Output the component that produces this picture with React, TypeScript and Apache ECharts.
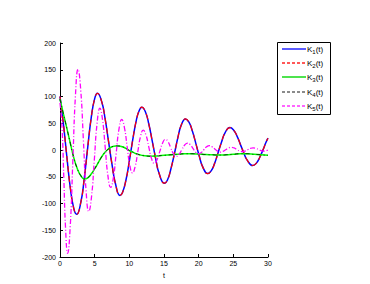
import React, { useEffect, useRef } from "react";
import * as echarts from "echarts";

const xTicks = [0, 5, 10, 15, 20, 25, 30];
const yTicks = [-200, -150, -100, -50, 0, 50, 100, 150, 200];

const tK1 = [0, 0.5, 1.0, 1.5, 2.0, 2.4, 3.0, 3.5, 4.0, 4.5, 5.0, 5.4, 6.0, 6.5, 7.0, 7.5, 8.0, 8.65, 9.0, 9.5, 10.0, 10.5, 11.0, 11.4, 11.8, 12.3, 12.8, 13.3, 13.8, 14.3, 15.05, 15.5, 16.0, 16.5, 17.0, 17.5, 18.1, 18.6, 19.1, 19.6, 20.1, 20.6, 21.3, 21.8, 22.3, 22.8, 23.3, 23.8, 24.5, 25.0, 25.5, 26.0, 26.5, 27.0, 27.8, 28.3, 28.8, 29.3, 29.7, 30];
const vK1 = [100, 48, -14, -72, -110, -120, -98, -53, 5, 60, 96, 106, 91, 59, 16, -27, -63, -85, -80, -57, -21, 20, 55, 73, 80, 72, 49, 17, -16, -44, -62, -56, -35, -7, 23, 47, 58, 52, 35, 12, -12, -32, -44, -39, -25, -5, 15, 32, 42, 38, 27, 11, -5, -19, -29, -25, -14, 1, 14, 22];
const vK2 = [100, 48, -14, -72, -110, -120, -98, -53, 5, 60, 96, 106, 91, 59, 16, -27, -63, -85, -80, -57, -21, 20, 55, 73, 80, 72, 49, 17, -16, -44, -62, -56, -35, -7, 23, 47, 58, 52, 35, 12, -12, -32, -44, -39, -25, -5, 15, 32, 42, 38, 27, 11, -5, -19, -29, -25, -14, 1, 14, 22];

const tK3 = [0, 0.5, 1.0, 1.5, 2.0, 2.5, 3.0, 3.5, 4.0, 4.5, 5.0, 5.5, 6.0, 6.5, 7.0, 7.5, 8.0, 8.5, 9.0, 9.5, 10.0, 10.5, 11, 11.5, 12, 13, 14, 15, 16, 17, 18, 19, 20, 21, 22, 23, 24, 25, 26, 27, 28, 29, 30];
const vK3 = [95, 67, 40, 12, -15, -35, -48, -54, -52, -45, -35, -24, -13, -4, 2, 6, 7.5, 7.5, 6, 3, -1, -4, -7, -9, -10.5, -11.5, -11, -10, -9, -8, -7, -7, -7.5, -8.5, -9, -9.5, -9, -8, -7, -7, -8, -9, -10];
const vK4 = [95, 67, 40, 12, -15, -35, -48, -54, -52, -45, -35, -24, -13, -4, 2, 6, 7.5, 7.5, 6, 3, -1, -4, -7, -9, -10.5, -11.5, -11, -10, -9, -8, -7, -7, -7.5, -8.5, -9, -9.5, -9, -8, -7, -7, -8, -9, -10];

const tK5 = [0, 0.3, 0.55, 0.8, 1.1, 1.475, 1.85, 2.225, 2.6, 2.99, 3.375, 3.76, 4.15, 4.55, 4.95, 5.35, 5.75, 6.14, 6.525, 6.91, 7.3, 7.7, 8.1, 8.5, 8.9, 9.29, 9.675, 10.06, 10.45, 10.84, 11.225, 11.61, 12.0, 12.4, 12.8, 13.2, 13.6, 14.0, 14.4, 14.8, 15.2, 15.59, 15.975, 16.36, 16.75, 17.16, 17.575, 17.99, 18.4, 18.79, 19.175, 19.56, 19.95, 20.35, 20.75, 21.15, 21.55, 21.94, 22.325, 22.71, 23.1, 23.5, 23.9, 24.3, 24.7, 25.1, 25.5, 25.9, 26.3, 26.69, 27.075, 27.46, 27.85, 28.24, 28.625, 29.01, 29.4, 30];
const vK5 = [88, 40, -52, -146, -193, -143, -21, 101, 151, 112, 18, -76, -115, -87, -18.5, 50, 78, 56, 4, -48, -70, -51.5, -6.5, 38.5, 57, 42, 7, -28, -43, -31, -3, 25, 37, 28, 6, -16, -25, -18, -2.5, 13, 20, 15.3, 4, -7, -12, -8.3, 0.5, 9.3, 13, 10, 3, -4, -7, -5, 0.5, 6, 8, 6, 2, -2, -4, -2.7, 0.5, 3.7, 5, 3.8, 1, -1.8, -3, -2, 0.5, 3, 4, 3.1, 1, -1, -2, 0];

const names = ["K1", "K2", "K3", "K4", "K5"];
const subs = ["1", "2", "3", "4", "5"];
const colors = ["#0000ff", "#ff0000", "#00ff00", "#000000", "#ff00ff"];

const zip = (t: number[], v: number[]) => t.map((x, i) => [x, v[i]]);

export default function App() {
  const ref = useRef<HTMLDivElement>(null);
  useEffect(() => {
    if (!ref.current) return;
    const chart = echarts.init(ref.current, null, { renderer: "svg" });
    const font = "Liberation Sans, Arial, sans-serif";
    const dashes: any[] = [null, [6, 4], null, [4, 3, 1, 3], [5, 2, 1, 2]];
    const legendDashes: any[] = [null, [3, 2], null, [3, 2], [3, 2]];
    const legendColors = ["#3333ff", "#ff2222", "#22dd22", "#666666", "#ff33ff"];
    const widths = [1.5, 1.2, 1.5, 0.8, 1.3];
    const tArr = [tK1, tK1, tK3, tK3, tK5];
    const vArr = [vK1, vK2, vK3, vK4, vK5];

    const legendEls: any[] = [
      { type: "rect", shape: { x: 277.5, y: 42.5, width: 53, height: 72 }, style: { fill: "#fff", stroke: "#000", lineWidth: 1 } },
    ];
    names.forEach((n, i) => {
      const cy = Math.round(49 + i * 14.2);
      legendEls.push({
        type: "line",
        z: 10,
        shape: { x1: 282, y1: cy, x2: 306, y2: cy },
        style: { stroke: legendColors[i], lineWidth: 1.6, lineDash: legendDashes[i] || null },
      });
      legendEls.push({
        type: "text",
        z: 10,
        x: 307,
        y: cy - 5,
        style: {
          text: `{a|K}{s|${subs[i]}}{a|(t)}`,
          rich: {
            a: { fontSize: 8, fontFamily: font, fill: "#000", lineHeight: 10 },
            s: { fontSize: 6, fontFamily: font, fill: "#000", lineHeight: 10, padding: [5, 0, 0, 0] },
          },
        },
      });
    });

    chart.setOption({
      animation: false,
      backgroundColor: "#ffffff",
      grid: { left: 60, right: 102, top: 43, bottom: 27, containLabel: false },
      xAxis: {
        type: "value",
        min: xTicks[0],
        max: xTicks[xTicks.length - 1],
        interval: 5,
        name: "t",
        nameLocation: "middle",
        nameGap: 13,
        nameTextStyle: { color: "#000", fontSize: 7, fontFamily: font },
        axisLine: { onZero: false, lineStyle: { color: "#000", width: 1 } },
        axisTick: { inside: true, length: 3, lineStyle: { color: "#000" } },
        axisLabel: { color: "#000", fontSize: 7, fontFamily: font, margin: 3 },
        splitLine: { show: false },
      },
      yAxis: {
        type: "value",
        min: yTicks[0],
        max: yTicks[yTicks.length - 1],
        interval: 50,
        axisLine: { show: true, onZero: false, lineStyle: { color: "#000", width: 1 } },
        axisTick: { show: true, inside: true, length: 3, lineStyle: { color: "#000" } },
        axisLabel: { color: "#000", fontSize: 7, fontFamily: font, margin: 4 },
        splitLine: { show: false },
      },
      graphic: legendEls,
      series: names.map((n, i) => ({
        name: n,
        type: "line",
        data: zip(tArr[i], vArr[i]),
        smooth: true,
        symbol: "none",
        lineStyle: { color: colors[i], width: widths[i], type: dashes[i] || "solid" },
        itemStyle: { color: colors[i] },
      })),
    });
    return () => chart.dispose();
  }, []);
  return <div ref={ref} style={{ position: "fixed", left: 0, top: 0, width: 370, height: 284 }} />;
}
